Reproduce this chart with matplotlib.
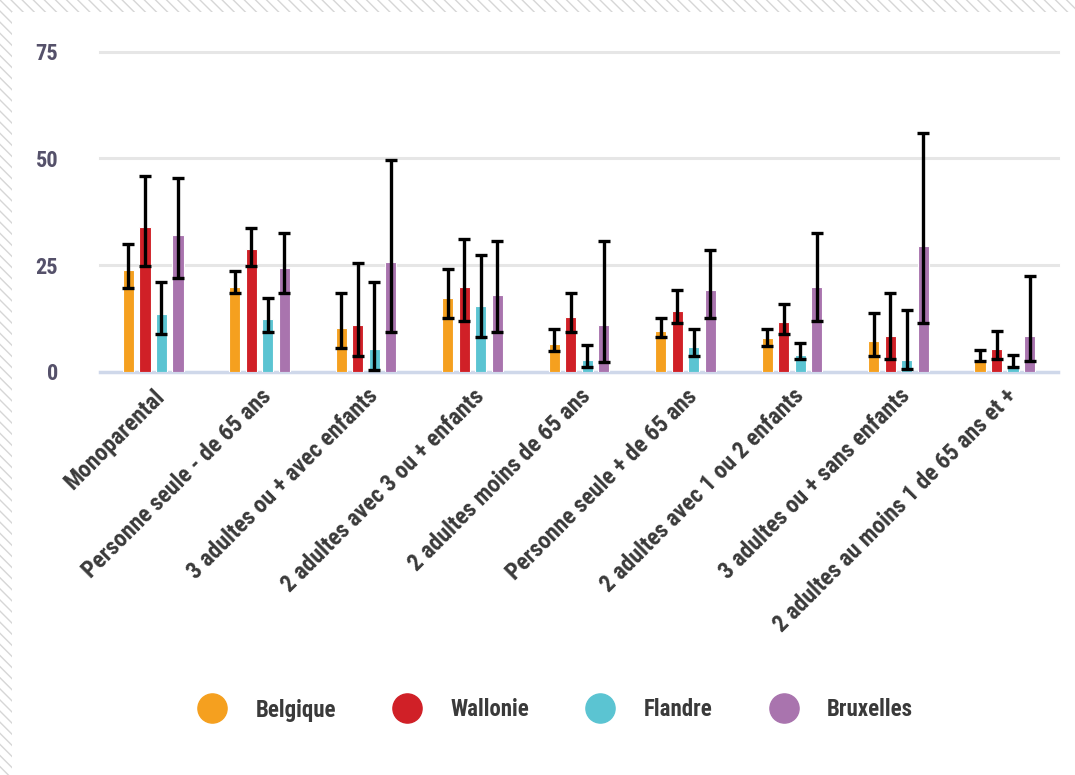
import numpy as np
import matplotlib
matplotlib.use("Agg")
import matplotlib.pyplot as plt
from matplotlib import font_manager
from matplotlib.lines import Line2D
from matplotlib.patches import Rectangle

categories = [
    "Monoparental",
    "Personne seule - de 65 ans",
    "3 adultes ou + avec enfants",
    "2 adultes avec 3 ou + enfants",
    "2 adultes moins de 65 ans",
    "Personne seule + de 65 ans",
    "2 adultes avec 1 ou 2 enfants",
    "3 adultes ou + sans enfants",
    "2 adultes au moins 1 de 65 ans et +",
]
series = ["Belgique", "Wallonie", "Flandre", "Bruxelles"]

belgique = [23.8, 19.9, 10.4, 17.4, 6.5, 9.7, 7.9, 7.2, 2.8]
belgique_lo = [19.6, 18.4, 5.6, 12.6, 5.0, 8.2, 6.2, 3.7, 2.5]
belgique_hi = [29.9, 23.6, 18.4, 24.2, 10.1, 12.7, 10.1, 13.9, 5.1]

wallonie = [33.9, 28.8, 11.1, 19.9, 12.9, 14.2, 11.6, 8.5, 5.3]
wallonie_lo = [24.8, 24.8, 3.7, 12.0, 9.4, 11.4, 8.8, 3.1, 3.1]
wallonie_hi = [45.8, 33.7, 25.4, 31.2, 18.4, 19.1, 15.9, 18.5, 9.6]

flandre = [13.6, 12.3, 5.3, 15.5, 2.7, 5.9, 4.0, 2.8, 1.5]
flandre_lo = [8.8, 9.4, 0.5, 8.2, 1.2, 3.7, 3.0, 0.6, 1.2]
flandre_hi = [21.0, 17.2, 21.0, 27.3, 6.3, 10.1, 6.9, 14.6, 3.9]

bruxelles = [32.0, 24.4, 25.7, 18.0, 11.0, 19.3, 19.9, 29.4, 8.5]
bruxelles_lo = [22.1, 18.4, 9.4, 9.4, 2.4, 12.6, 12.0, 11.4, 2.5]
bruxelles_hi = [45.3, 32.5, 49.6, 30.6, 30.6, 28.6, 32.5, 56.0, 22.4]

yticks = [0, 25, 50, 75]
colors = ["#F5A01F", "#D02027", "#5BC4D2", "#A974AE"]

values = [belgique, wallonie, flandre, bruxelles]
lows = [belgique_lo, wallonie_lo, flandre_lo, bruxelles_lo]
highs = [belgique_hi, wallonie_hi, flandre_hi, bruxelles_hi]

# pick a condensed bold face if one is installed
installed = {f.name for f in font_manager.fontManager.ttflist}
family = "DejaVu Sans"
stretch = "condensed"
for cand in ["Roboto Condensed", "Liberation Sans Narrow", "Open Sans Condensed"]:
    if cand in installed:
        family = cand
        stretch = "normal"
        break
plt.rcParams["font.family"] = [family, "DejaVu Sans"]
plt.rcParams["font.stretch"] = stretch
plt.rcParams["font.weight"] = "bold"

fig = plt.figure(figsize=(10.75, 7.75), dpi=100)

# hatched frame along the top and left edges
frame = Rectangle((0, 0), 1, 1, transform=fig.transFigure, facecolor="white",
                  edgecolor="#d6d6d6", hatch="\\\\\\", linewidth=0, zorder=-10)
fig.add_artist(frame)
inner = Rectangle((12 / 1075, 0), 1, 1 - 12 / 775, transform=fig.transFigure,
                  facecolor="white", edgecolor="none", zorder=-9)
fig.add_artist(inner)

ax = fig.add_axes([100 / 1075, 1 - 372 / 775, 958 / 1075, (372 - 51.5) / 775])
ax.set_facecolor("none")

x = np.arange(len(categories))
width = 0.104
step = 0.155
for i, (vals, lo, hi, col) in enumerate(zip(values, lows, highs, colors)):
    pos = x + (i - 1.5) * step
    vals = np.array(vals)
    yerr = np.vstack([vals - np.array(lo), np.array(hi) - vals])
    ax.bar(pos, vals, width=width, color=col, edgecolor="white", linewidth=0.8,
           zorder=3, label=series[i])
    ax.errorbar(pos, vals, yerr=yerr, fmt="none", ecolor="black", elinewidth=2.4,
                capsize=4.5, capthick=2.4, zorder=4)

ax.set_xlim(-0.5, len(categories) - 0.5)
ax.set_ylim(0, 75)
ax.set_yticks(yticks)
ax.set_yticklabels([str(t) for t in yticks], fontsize=16, color="#55516a",
                   fontweight="bold")
ax.tick_params(axis="y", length=0, pad=30)
ax.tick_params(axis="x", length=0, pad=9)
ax.set_xticks(x)
ax.set_xticklabels(categories, rotation=45, ha="right", va="top",
                   rotation_mode="anchor", fontsize=17, color="#3a3a3a",
                   fontweight="bold")

for t in yticks[1:]:
    ax.axhline(t, color="#e6e6e6", linewidth=2.2, zorder=1, clip_on=False)
ax.axhline(0, color="#cfd8ea", linewidth=2.5, zorder=2, clip_on=False)
for s in ax.spines.values():
    s.set_visible(False)

handles = [Line2D([], [], marker="o", linestyle="none", markersize=21,
                  markerfacecolor=c, markeredgecolor=c) for c in colors]
fig.legend(handles, series, loc="center", bbox_to_anchor=(551 / 1075, 1 - 710 / 775),
           ncol=4, frameon=False, fontsize=16.5, handletextpad=0.9,
           columnspacing=2.1, labelcolor="#3a3a3a")

fig.savefig("out.png", dpi=100, facecolor="white")
